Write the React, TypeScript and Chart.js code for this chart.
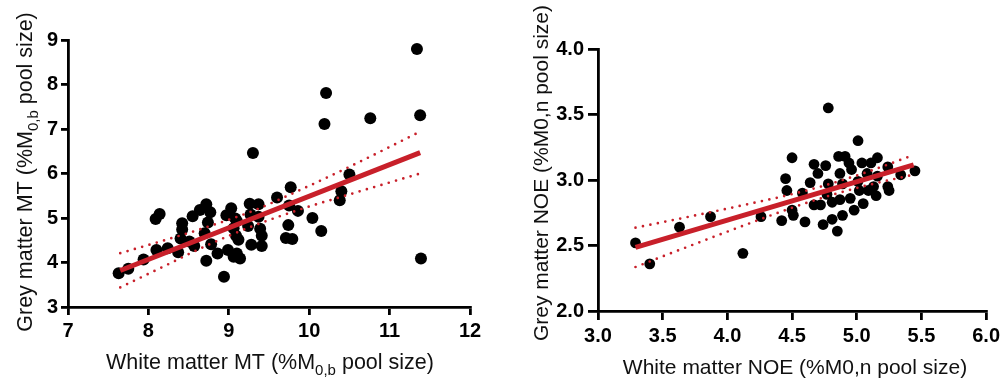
import React, { useEffect, useRef } from "react";
import { Chart, registerables } from "chart.js";

Chart.register(...registerables);

// ---------- Data: left panel (MT) ----------
const mtWhite = [
  7.63, 7.75, 7.94, 8.1, 8.24, 8.37, 8.09, 8.14, 8.42, 8.42, 8.4, 8.51, 8.57, 8.55, 8.64, 8.72,
  8.77, 8.74, 8.7, 8.72, 8.78, 8.86, 8.94, 8.99, 8.97, 9.03, 9.08, 9.06, 9.09, 9.12, 9.1, 9.14,
  9.06, 9.1, 9.24, 9.26, 9.37, 9.27, 9.28, 9.39, 9.41, 9.41, 9.37, 9.3, 9.6, 9.77, 9.75, 9.86,
  9.74, 9.71, 9.79, 10.04, 10.15, 10.19, 10.21, 10.38, 10.4, 10.5, 10.76, 11.34, 11.38, 11.39,
];
const mtGrey = [
  3.76, 3.86, 4.07, 4.28, 4.32, 4.23, 4.98, 5.09, 4.88, 4.74, 4.54, 4.47, 4.37, 5.04, 5.18, 5.31,
  5.13, 4.9, 4.66, 4.04, 4.41, 4.2, 3.68, 4.28, 5.06, 5.22, 4.99, 4.77, 4.6, 4.51, 4.2, 4.09,
  4.13, 4.93, 4.82, 5.32, 5.31, 5.08, 4.4, 4.76, 4.6, 4.37, 5.03, 6.46, 5.46, 5.69, 5.28, 5.16,
  4.84, 4.55, 4.53, 5.0, 4.71, 7.11, 7.81, 5.4, 5.6, 5.98, 7.24, 8.8, 7.31, 4.09,
];
const mtFitX = [7.65, 11.38];
const mtFitY = [3.82, 6.47];
const mtBandX = [7.65, 8.2, 8.7, 9.3, 9.9, 10.5, 11.38];
const mtUpper = [4.21, 4.5, 4.78, 5.16, 5.64, 6.15, 6.94];
const mtLower = [3.44, 3.92, 4.36, 4.82, 5.2, 5.53, 6.0];
const mtXTicks = [7, 8, 9, 10, 11, 12];
const mtYTicks = [3, 4, 5, 6, 7, 8, 9];

// ---------- Data: right panel (NOE) ----------
const noeWhite = [
  3.29, 3.4, 3.63, 3.87, 4.12, 4.26, 4.42, 4.45, 4.46, 4.5, 4.5, 4.51, 4.58, 4.6, 4.64, 4.67,
  4.7, 4.67, 4.72, 4.74, 4.76, 4.78, 4.78, 4.77, 4.81, 4.81, 4.85, 4.86, 4.87, 4.89, 4.87, 4.89,
  4.91, 4.94, 4.96, 4.95, 4.98, 5.01, 5.01, 5.02, 5.04, 5.05, 5.08, 5.09, 5.11, 5.13, 5.15, 5.16,
  5.16, 5.24, 5.24, 5.25, 5.34, 5.45,
];
const noeGrey = [
  2.52, 2.36, 2.64, 2.72, 2.44, 2.72, 2.69, 3.01, 2.92, 3.17, 2.77, 2.73, 2.9, 2.68, 2.98, 3.12,
  3.05, 2.81, 2.81, 2.66, 3.11, 3.55, 2.97, 2.89, 2.83, 2.7, 2.61, 3.18, 3.05, 2.97, 2.85, 2.73,
  3.18, 3.13, 3.08, 2.86, 2.77, 3.3, 2.99, 2.92, 3.13, 2.82, 3.05, 2.92, 3.13, 2.95, 2.88, 3.17,
  3.03, 3.1, 2.95, 2.92, 3.04, 3.07,
];
const noeFitX = [3.29, 5.44];
const noeFitY = [2.486, 3.116];
const noeBandX = [3.29, 3.7, 4.1, 4.5, 4.8, 5.1, 5.44];
const noeUpper = [2.636, 2.719, 2.803, 2.892, 2.972, 3.068, 3.191];
const noeLower = [2.336, 2.493, 2.643, 2.788, 2.884, 2.964, 3.041];
const noeXTicks = [3.0, 3.5, 4.0, 4.5, 5.0, 5.5, 6.0];
const noeYTicks = [2.0, 2.5, 3.0, 3.5, 4.0];

// ---------- Text ----------
type Seg = { t: string; sub?: boolean };
const mtXTitle: Seg[] = [{ t: "White matter MT (%M" }, { t: "0,b", sub: true }, { t: " pool size)" }];
const mtYTitle: Seg[] = [{ t: "Grey matter MT (%M" }, { t: "0,b", sub: true }, { t: " pool size)" }];
const noeXTitle: Seg[] = [{ t: "White matter NOE (%M0,n pool size)" }];
const noeYTitle: Seg[] = [{ t: "Grey matter NOE (%M0,n pool size)" }];

const FONT = '"Liberation Sans", Arial, Helvetica, sans-serif';
const RED = "#c8202a";

const zip = (xs: number[], ys: number[]) => xs.map((x, i) => ({ x, y: ys[i] }));

function titlesPlugin(cfg: {
  size: number;
  x: { segs: Seg[]; cx: number; baseline: number };
  y: { segs: Seg[]; cy: number; baseline: number };
}) {
  const drawSegs = (ctx: CanvasRenderingContext2D, segs: Seg[]) => {
    const big = `${cfg.size}px ${FONT}`;
    const small = `${Math.round(cfg.size * 0.72)}px ${FONT}`;
    let total = 0;
    const widths = segs.map((s) => {
      ctx.font = s.sub ? small : big;
      const w = ctx.measureText(s.t).width;
      total += w;
      return w;
    });
    let x = -total / 2;
    segs.forEach((s, i) => {
      ctx.font = s.sub ? small : big;
      ctx.fillText(s.t, x, s.sub ? cfg.size * 0.26 : 0);
      x += widths[i];
    });
  };
  return {
    id: "axisTitles",
    afterDraw(chart: any) {
      const ctx: CanvasRenderingContext2D = chart.ctx;
      ctx.save();
      ctx.fillStyle = "#111";
      ctx.textBaseline = "alphabetic";
      ctx.textAlign = "left";
      ctx.save();
      ctx.translate(cfg.x.cx, cfg.x.baseline);
      drawSegs(ctx, cfg.x.segs);
      ctx.restore();
      ctx.save();
      ctx.translate(cfg.y.baseline, cfg.y.cy);
      ctx.rotate(-Math.PI / 2);
      drawSegs(ctx, cfg.y.segs);
      ctx.restore();
      ctx.restore();
    },
  };
}

function axis(opts: {
  min: number;
  max: number;
  ticks: number[];
  decimals: number;
  fontSize: number;
  tickLength: number;
  padding: number;
  fit: (s: any) => void;
}) {
  return {
    type: "linear",
    min: opts.min,
    max: opts.max,
    afterBuildTicks: (s: any) => {
      s.ticks = opts.ticks.map((v) => ({ value: v }));
    },
    afterFit: opts.fit,
    ticks: {
      color: "#000",
      padding: opts.padding,
      font: { family: FONT, size: opts.fontSize, weight: "bold" },
      callback: (v: any) => Number(v).toFixed(opts.decimals),
      maxRotation: 0,
      autoSkip: false,
    },
    grid: {
      drawOnChartArea: false,
      drawTicks: true,
      tickLength: opts.tickLength,
      color: "#000",
      lineWidth: 2.8,
    },
    border: { display: true, color: "#000", width: 2.8 },
  };
}

function datasets(
  fx: number[], fy: number[], bx: number[], up: number[], lo: number[],
  px: number[], py: number[], radius: number
) {
  const band = (ys: number[]) => ({
    type: "line",
    data: zip(bx, ys),
    borderColor: RED,
    borderWidth: 2.7,
    borderDash: [0, 7.6],
    borderCapStyle: "round",
    pointRadius: 0,
    showLine: true,
    fill: false,
    cubicInterpolationMode: "monotone",
    order: 0,
  });
  return [
    {
      type: "line",
      data: zip(fx, fy),
      borderColor: RED,
      borderWidth: 5,
      pointRadius: 0,
      showLine: true,
      fill: false,
      order: 0,
    },
    band(up),
    band(lo),
    {
      type: "scatter",
      data: zip(px, py),
      backgroundColor: "#000",
      borderWidth: 0,
      pointRadius: radius,
      order: 1,
    },
  ];
}

export default function App() {
  const leftRef = useRef<HTMLCanvasElement | null>(null);
  const rightRef = useRef<HTMLCanvasElement | null>(null);

  useEffect(() => {
    document.body.style.margin = "0";
    const common = {
      responsive: false,
      animation: false,
      devicePixelRatio: 1,
      events: [],
    };
    const left = new Chart(leftRef.current as HTMLCanvasElement, {
      type: "scatter",
      data: {
        datasets: datasets(mtFitX, mtFitY, mtBandX, mtUpper, mtLower, mtWhite, mtGrey, 6) as any,
      },
      options: {
        ...common,
        layout: { padding: { left: 0, top: 40, right: 24, bottom: 0 } },
        plugins: { legend: { display: false }, tooltip: { enabled: false } },
        scales: {
          x: axis({
            min: 7, max: 12, ticks: mtXTicks, decimals: 0, fontSize: 20,
            tickLength: 8, padding: 4, fit: (s: any) => { s.height = 75; },
          }),
          y: axis({
            min: 3, max: 9, ticks: mtYTicks, decimals: 0, fontSize: 20,
            tickLength: 7, padding: 3, fit: (s: any) => { s.width = 68; },
          }),
        },
      } as any,
      plugins: [
        titlesPlugin({
          size: 21.5,
          x: { segs: mtXTitle, cx: 270, baseline: 369 },
          y: { segs: mtYTitle, cy: 172, baseline: 32 },
        }),
      ],
    } as any);

    const right = new Chart(rightRef.current as HTMLCanvasElement, {
      type: "scatter",
      data: {
        datasets: datasets(noeFitX, noeFitY, noeBandX, noeUpper, noeLower, noeWhite, noeGrey, 5.4) as any,
      },
      options: {
        ...common,
        layout: { padding: { left: 0, top: 49, right: 13, bottom: 0 } },
        plugins: { legend: { display: false }, tooltip: { enabled: false } },
        scales: {
          x: axis({
            min: 3, max: 6, ticks: noeXTicks, decimals: 1, fontSize: 20,
            tickLength: 9, padding: 4, fit: (s: any) => { s.height = 71; },
          }),
          y: axis({
            min: 2, max: 4, ticks: noeYTicks, decimals: 1, fontSize: 20,
            tickLength: 10, padding: 4, fit: (s: any) => { s.width = 104; },
          }),
        },
      } as any,
      plugins: [
        titlesPlugin({
          size: 21,
          x: { segs: noeXTitle, cx: 795 - 494, baseline: 374 },
          y: { segs: noeYTitle, cy: 173, baseline: 548 - 494 },
        }),
      ],
    } as any);

    return () => {
      left.destroy();
      right.destroy();
    };
  }, []);

  return (
    <div style={{ position: "absolute", left: 0, top: 0, width: 1004, height: 382, background: "#fff", overflow: "hidden" }}>
      <canvas ref={leftRef} width={494} height={382} style={{ position: "absolute", left: 0, top: 0 }} />
      <canvas ref={rightRef} width={510} height={382} style={{ position: "absolute", left: 494, top: 0 }} />
    </div>
  );
}
